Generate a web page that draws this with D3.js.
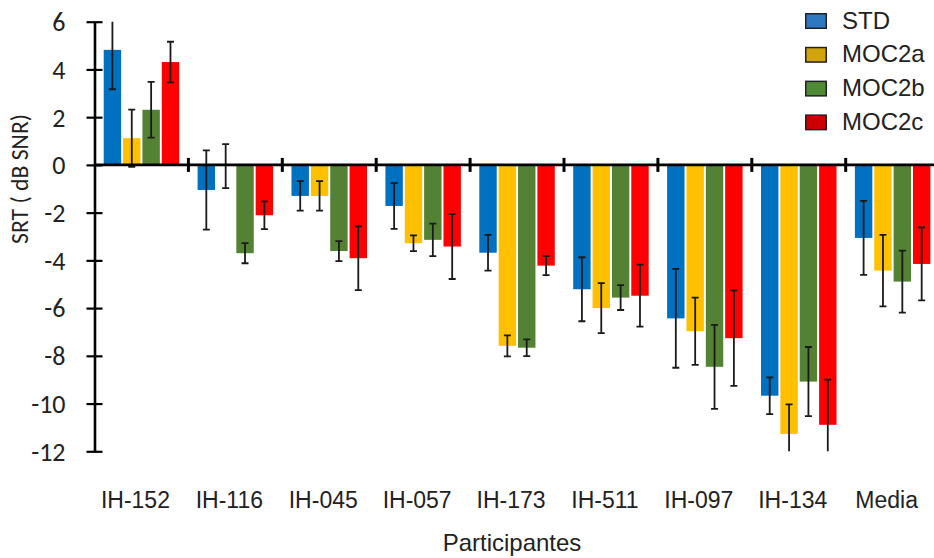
<!DOCTYPE html>
<html>
<head>
<meta charset="utf-8">
<script src="https://cdn.jsdelivr.net/npm/d3@7"></script>
<style>
  html, body { margin: 0; padding: 0; background: #fff; }
  svg { display: block; }
</style>
</head>
<body>
<script>
// ---- data ----
const categories = ["IH-152","IH-116","IH-045","IH-057","IH-173","IH-511","IH-097","IH-134","Media"];
const seriesNames = ["STD","MOC2a","MOC2b","MOC2c"];
const STD       = [4.82, -1.05, -1.30, -1.72, -3.68, -5.21, -6.43, -9.67, -3.06];
const STD_err   = [1.65,  1.66,  0.62,  0.96,  0.75,  1.34,  2.07,  0.77,  1.55];
const MOC2a     = [1.12, -0.05, -1.30, -3.28, -7.58, -6.00, -6.97, -11.27, -4.43];
const MOC2a_err = [1.20,  0.92,  0.62,  0.33,  0.44,  1.05,  1.41,  1.24,  1.50];
const MOC2b     = [2.31, -3.70, -3.61, -3.14, -7.66, -5.56, -8.46, -9.08, -4.89];
const MOC2b_err = [1.17,  0.42,  0.42,  0.68,  0.35,  0.52,  1.76,  1.45,  1.30];
const MOC2c     = [4.31, -2.11, -3.91, -3.42, -4.22, -5.48, -7.26, -10.89, -4.15];
const MOC2c_err = [0.85,  0.58,  1.34,  1.36,  0.40,  1.30,  2.00,  1.89,  1.53];
const yTicks = [6, 4, 2, 0, -2, -4, -6, -8, -10, -12];
const yTickLabels = ["6", "4", "2", "0", "-2", "-4", "-6", "-8", "-10", "-12"];
const barColors = ["#0070C0", "#FFC000", "#548235", "#FF0000"];
const legendColors = ["#2E78C2", "#D1A40C", "#4F8A34", "#CC0000"];
const xTitle = "Participantes";
const yTitle = "SRT ( dB SNR)";

const values = [STD, MOC2a, MOC2b, MOC2c];
const errors = [STD_err, MOC2a_err, MOC2b_err, MOC2c_err];

const W = 934, H = 558;
const svg = d3.select("body").append("svg").attr("width", W).attr("height", H);

const x0 = d3.scaleBand().domain(categories).range([94.5, 94.5 + 9 * 93.9]).paddingInner(0).paddingOuter(0);
const x1 = d3.scaleBand().domain(seriesNames).range([9.2, 84.7]).paddingInner(0.1).paddingOuter(0);
const y = d3.scaleLinear().domain([-12, 6]).range([451.3, 21.7]);

svg.append("clipPath").attr("id", "plotclip")
  .append("rect").attr("x", 90).attr("y", y(6)).attr("width", W).attr("height", y(-12) - y(6));

const plot = svg.append("g").attr("clip-path", "url(#plotclip)");

const rows = [];
categories.forEach((c, ci) => {
  seriesNames.forEach((s, si) => {
    rows.push({ c, s, si, v: values[si][ci], e: errors[si][ci] });
  });
});

// bars
plot.selectAll("rect.bar").data(rows).enter().append("rect")
  .attr("class", "bar")
  .attr("x", d => x0(d.c) + x1(d.s))
  .attr("width", x1.bandwidth())
  .attr("y", d => y(Math.max(0, d.v)))
  .attr("height", d => Math.abs(y(d.v) - y(0)))
  .attr("fill", d => barColors[d.si]);

// error bars
const eb = plot.selectAll("g.err").data(rows).enter().append("g").attr("class", "err")
  .attr("stroke", "#1a1a1a").attr("stroke-width", 1.8).attr("fill", "none");
eb.append("line")
  .attr("x1", d => x0(d.c) + x1(d.s) + x1.bandwidth() / 2)
  .attr("x2", d => x0(d.c) + x1(d.s) + x1.bandwidth() / 2)
  .attr("y1", d => y(d.v + d.e))
  .attr("y2", d => y(d.v - d.e));
[1, -1].forEach(sign => {
  eb.append("line")
    .attr("x1", d => x0(d.c) + x1(d.s) + x1.bandwidth() / 2 - 3.5)
    .attr("x2", d => x0(d.c) + x1(d.s) + x1.bandwidth() / 2 + 3.5)
    .attr("y1", d => y(d.v + sign * d.e))
    .attr("y2", d => y(d.v + sign * d.e));
});

// x axis at zero
const boundaries = categories.map(c => x0(c) + x0.bandwidth());
svg.append("line")
  .attr("x1", x0.range()[0]).attr("x2", W)
  .attr("y1", y(0)).attr("y2", y(0))
  .attr("stroke", "#000").attr("stroke-width", 2.6);
svg.selectAll("line.xtick").data(boundaries).enter().append("line")
  .attr("class", "xtick")
  .attr("x1", d => d).attr("x2", d => d)
  .attr("y1", y(0) - 7).attr("y2", y(0) + 7)
  .attr("stroke", "#000").attr("stroke-width", 3);

// y axis
const yAxis = d3.axisLeft(y).tickValues(yTicks).tickSizeInner(8).tickSizeOuter(0).tickPadding(12)
  .tickFormat((d, i) => yTickLabels[i]);
const gy = svg.append("g").attr("transform", `translate(${x0.range()[0]},0)`).call(yAxis);
gy.select(".domain").attr("stroke", "#000").attr("stroke-width", 2.6);
gy.selectAll(".tick line").attr("x1", -8).attr("x2", 8).attr("stroke", "#000").attr("stroke-width", 2.2);
gy.selectAll(".tick text")
  .attr("x", -29)
  .attr("dy", "0.34em")
  .attr("font-family", "Carlito, 'Liberation Sans', Arial, sans-serif")
  .attr("font-size", 26).attr("fill", "#222");

// category labels
svg.selectAll("text.cat").data(categories).enter().append("text")
  .attr("class", "cat")
  .attr("x", d => x0(d) + x0.bandwidth() / 2 - 6)
  .attr("y", 508)
  .attr("text-anchor", "middle")
  .attr("font-family", "'Liberation Sans', Arial, sans-serif")
  .attr("font-size", 23).attr("fill", "#222")
  .text(d => d);

// axis titles
svg.append("text")
  .attr("x", 512).attr("y", 551)
  .attr("text-anchor", "middle")
  .attr("font-family", "'Liberation Sans', Arial, sans-serif")
  .attr("font-size", 24).attr("fill", "#222")
  .text(xTitle);

svg.append("text")
  .attr("transform", "translate(28,179) rotate(-90)")
  .attr("text-anchor", "middle")
  .attr("font-family", "Carlito, 'Liberation Sans', Arial, sans-serif")
  .attr("font-size", 24).attr("fill", "#222")
  .attr("textLength", 130).attr("lengthAdjust", "spacingAndGlyphs")
  .text(yTitle);

// legend
const lg = svg.append("g").attr("transform", "translate(805,13)");
const li = lg.selectAll("g").data(seriesNames).enter().append("g")
  .attr("transform", (d, i) => `translate(0,${i * 33.8})`);
li.append("rect").attr("x", 0.75).attr("y", 0.75).attr("width", 20.5).attr("height", 14.5)
  .attr("fill", (d, i) => legendColors[i]).attr("stroke", "#222").attr("stroke-width", 1.5);
li.append("text").attr("x", 37).attr("y", 15.5)
  .attr("font-family", "'Liberation Sans', Arial, sans-serif")
  .attr("font-size", 24).attr("fill", "#222")
  .text(d => d);
</script>
</body>
</html>
